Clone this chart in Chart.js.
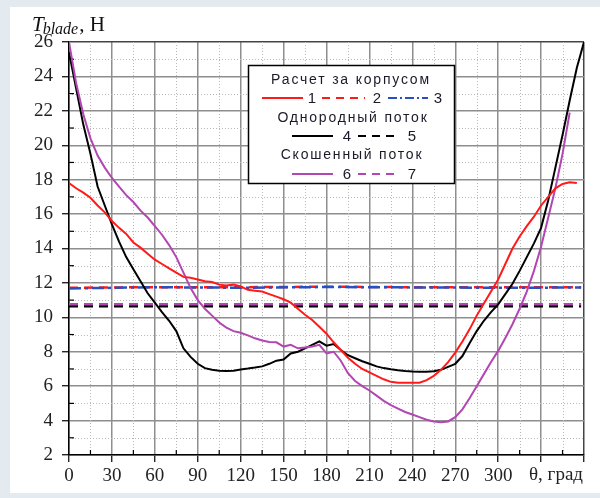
<!DOCTYPE html>
<html>
<head>
<meta charset="utf-8">
<script src="https://cdn.jsdelivr.net/npm/chart.js@4/dist/chart.umd.min.js"></script>
<style>
  html, body { margin: 0; padding: 0; background: #fff; }
</style>
</head>
<body>
<canvas id="chart" width="600" height="498"></canvas>
<script>
// углы, град
const angles = [0, 5, 10, 15, 20, 25, 30, 35, 40, 45, 50, 55, 60, 65, 70, 75, 80, 85, 90, 95,
  100, 105, 110, 115, 120, 125, 130, 135, 140, 145, 150, 155, 160, 165, 170, 175, 180, 185, 190, 195,
  200, 205, 210, 215, 220, 225, 230, 235, 240, 245, 250, 255, 260, 265, 270, 275, 280, 285, 290, 295,
  300, 305, 310, 315, 320, 325, 330, 335, 340, 345, 350, 355, 360];

// 1 - расчет за корпусом
const calc1 = [17.8, 17.5, 17.25, 16.95, 16.5, 16.1, 15.6, 15.2, 14.85, 14.35, 14.05, 13.7, 13.35, 13.1, 12.85, 12.6, 12.35, 12.3, 12.2, 12.1,
  12.05, 11.9, 11.85, 11.9, 11.8, 11.6, 11.55, 11.5, 11.35, 11.2, 11.05, 10.85, 10.5, 10.15, 9.85, 9.45, 9.05, 8.55, 8.1, 7.65,
  7.3, 7.0, 6.8, 6.6, 6.4, 6.25, 6.2, 6.2, 6.2, 6.2, 6.35, 6.6, 6.95, 7.4, 7.95, 8.6, 9.3, 10.1, 10.8, 11.5,
  12.2, 13.1, 14.0, 14.7, 15.3, 15.85, 16.5, 17.0, 17.5, 17.75, 17.85, 17.8, null];

// 4 - однородный поток
const uniform4 = [25.4, 23.3, 21.2, 19.5, 17.6, 16.5, 15.4, 14.4, 13.5, 12.8, 12.1, 11.4, 10.85, 10.3, 9.8, 9.2, 8.2, 7.7, 7.3, 7.05,
  6.95, 6.9, 6.88, 6.9, 6.97, 7.02, 7.08, 7.15, 7.3, 7.48, 7.55, 7.9, 8.0, 8.2, 8.4, 8.6, 8.35, 8.45, 8.1, 7.8,
  7.62, 7.45, 7.3, 7.15, 7.05, 6.98, 6.92, 6.88, 6.85, 6.84, 6.84, 6.87, 6.95, 7.12, 7.3, 7.75, 8.5, 9.2, 9.8, 10.3,
  10.75, 11.35, 11.95, 12.7, 13.5, 14.3, 15.2, 16.8, 18.7, 20.6, 22.6, 24.5, 26.0];

// 6 - скошенный поток
const skewed6 = [26.0, 23.6, 21.8, 20.4, 19.4, 18.7, 18.1, 17.6, 17.1, 16.7, 16.2, 15.8, 15.3, 14.8, 14.2, 13.5, 12.6, 11.7, 11.0, 10.5,
  10.1, 9.7, 9.4, 9.2, 9.1, 8.95, 8.78, 8.65, 8.57, 8.55, 8.3, 8.4, 8.2, 8.25, 8.3, 8.4, 7.9, 8.0, 7.48, 6.75,
  6.3, 6.0, 5.75, 5.45, 5.15, 4.9, 4.7, 4.5, 4.35, 4.2, 4.05, 3.95, 3.9, 3.95, 4.2, 4.65, 5.3, 6.0, 6.7, 7.4,
  8.05, 8.8, 9.6, 10.5, 11.5, 12.7, 14.1, 15.8, 17.5, 19.5, 21.9, null, null];

// осредненные значения (2, 3, 5, 7)
const flatAngles = [0, 60, 120, 180, 240, 300, 358];
const calc2 = [11.72, 11.75, 11.75, 11.78, 11.75, 11.75, 11.75];
const calc3 = [11.68, 11.75, 11.72, 11.76, 11.74, 11.72, 11.73];
const uniform5 = [10.65, 10.65, 10.65, 10.65, 10.65, 10.65, 10.65];
const skewed7 = [10.76, 10.76, 10.76, 10.76, 10.76, 10.76, 10.76];

const xTicks = [0, 30, 60, 90, 120, 150, 180, 210, 240, 270, 300];
const yTicks = [2, 4, 6, 8, 10, 12, 14, 16, 18, 20, 22, 24, 26];

const RED = '#ff1a1a', BLUE = '#2a4fc0', BLACK = '#000000', MAG = '#b246b2';

function pts(xs, ys) {
  const out = [];
  xs.forEach((x, i) => { if (ys[i] !== null) out.push({ x: x, y: ys[i] }); });
  return out;
}

function ds(label, data, color, dash, width) {
  return {
    label: label, data: data, borderColor: color, borderWidth: width,
    borderDash: dash, pointRadius: 0, fill: false, tension: 0
  };
}

// фон страницы
const bgPlugin = {
  id: 'bg',
  beforeDraw(chart) {
    const c = chart.ctx;
    c.save();
    c.fillStyle = '#e3ebf1';
    c.fillRect(0, 0, chart.width, chart.height);
    c.fillStyle = '#ffffff';
    c.fillRect(10, 7, 590, 486);
    c.restore();
  }
};

// мелкая сетка и внутренние засечки
const minorGrid = {
  id: 'minorGrid',
  beforeDatasetsDraw(chart) {
    const c = chart.ctx, a = chart.chartArea;
    const sx = chart.scales.x, sy = chart.scales.y;
    c.save();
    c.strokeStyle = '#b8b8b8';
    c.lineWidth = 1;
    c.setLineDash([1, 2]);
    for (let v = 15; v < 360; v += 30) {
      const px = Math.round(sx.getPixelForValue(v)) + 0.5;
      c.beginPath(); c.moveTo(px, a.top); c.lineTo(px, a.bottom); c.stroke();
    }
    for (let v = 3; v < 26; v += 2) {
      const py = Math.round(sy.getPixelForValue(v)) + 0.5;
      c.beginPath(); c.moveTo(a.left, py); c.lineTo(a.right, py); c.stroke();
    }
    c.setLineDash([]);
    c.strokeStyle = '#000';
    c.lineWidth = 1.2;
    for (let v = 15; v < 360; v += 30) {
      const px = sx.getPixelForValue(v);
      c.beginPath(); c.moveTo(px, a.bottom); c.lineTo(px, a.bottom - 5); c.stroke();
    }
    for (let v = 3; v < 26; v += 2) {
      const py = sy.getPixelForValue(v);
      c.beginPath(); c.moveTo(a.left, py); c.lineTo(a.left + 5, py); c.stroke();
    }
    c.restore();
  }
};

function seg(c, x1, x2, y, color, dash) {
  c.save();
  c.strokeStyle = color;
  c.lineWidth = 2;
  c.setLineDash(dash);
  c.beginPath(); c.moveTo(x1, y); c.lineTo(x2, y); c.stroke();
  c.restore();
}

// подписи, легенда
const labels = {
  id: 'labels',
  afterDraw(chart) {
    const c = chart.ctx;
    c.save();
    // заголовок оси Y
    c.fillStyle = '#111';
    c.textBaseline = 'alphabetic';
    c.textAlign = 'left';
    c.font = 'italic 21px "Liberation Serif"';
    c.fillText('T', 32, 31);
    let x = 32 + c.measureText('T').width;
    c.font = 'italic 16px "Liberation Serif"';
    c.fillText('blade', x - 1, 34);
    x += c.measureText('blade').width;
    c.font = '21px "Liberation Serif"';
    c.fillText(', H', x, 31);

    // подпись оси X
    c.font = '19px "Liberation Serif"';
    c.textAlign = 'center';
    c.textBaseline = 'middle';
    c.fillStyle = '#222';
    c.fillText('θ, град', 556, 475);

    // легенда
    c.fillStyle = '#fff';
    c.fillRect(248, 65, 206, 118);
    c.strokeStyle = '#000';
    c.lineWidth = 1.5;
    c.strokeRect(248.5, 65.5, 206, 118);

    c.fillStyle = '#1a1a28';
    c.font = '14px "Liberation Sans"';
    c.letterSpacing = '1.8px';
    c.textAlign = 'center';
    c.textBaseline = 'middle';
    c.fillText('Расчет за корпусом', 351, 80);
    c.fillText('Однородный поток', 353, 118);
    c.fillText('Скошенный поток', 352, 155);

    const dash = [8, 6], dashDot = [9, 3, 2, 3];
    seg(c, 262, 303, 98, RED, []);
    seg(c, 322, 365, 98, RED, dash);
    seg(c, 388, 428, 98, BLUE, dashDot);
    seg(c, 292, 333, 136, BLACK, []);
    seg(c, 358, 398, 136, BLACK, dash);
    seg(c, 292, 333, 174, MAG, []);
    seg(c, 358, 398, 174, MAG, dash);

    c.letterSpacing = '0px';
    c.font = '15px "Liberation Sans"';
    c.fillText('1', 312, 99);
    c.fillText('2', 377, 99);
    c.fillText('3', 438, 99);
    c.fillText('4', 347, 137);
    c.fillText('5', 412, 137);
    c.fillText('6', 347, 175);
    c.fillText('7', 412, 175);
    c.restore();
  }
};

const config = {
  type: 'line',
  data: {
    datasets: [
      ds('1', pts(angles, calc1), RED, [], 2),
      ds('6', pts(angles, skewed6), MAG, [], 2),
      ds('4', pts(angles, uniform4), BLACK, [], 2),
      ds('3', pts(flatAngles, calc3), BLUE, [12, 4, 3, 4], 2.5),
      ds('2', pts(flatAngles, calc2), RED, [9, 6], 2.5),
      ds('7', pts(flatAngles, skewed7), MAG, [9, 6], 2.5),
      ds('5', pts(flatAngles, uniform5), BLACK, [9, 6], 2.5)
    ]
  },
  options: {
    responsive: false,
    animation: false,
    layout: { padding: { top: 42, right: 16, left: 0, bottom: 0 } },
    plugins: { legend: { display: false }, tooltip: { enabled: false } },
    scales: {
      x: {
        type: 'linear', min: 0, max: 360,
        afterBuildTicks: s => { s.ticks = xTicks.concat([330, 360]).map(v => ({ value: v })); },
        afterFit: s => { s.height = 43; },
        ticks: {
          autoSkip: false, maxRotation: 0, padding: 3, color: '#222',
          font: { family: 'Liberation Serif', size: 19 },
          callback: v => (xTicks.includes(v) ? String(v) : '')
        },
        grid: {
          color: c => (c.tick && c.tick.value === 360 ? '#444' : '#8e8e8e'),
          lineWidth: 1.5, tickLength: 7, tickColor: '#000', tickWidth: 1.2
        },
        border: { color: '#000', width: 1.5 }
      },
      y: {
        min: 2, max: 26,
        afterBuildTicks: s => { s.ticks = yTicks.map(v => ({ value: v })); },
        afterFit: s => { s.width = 69; },
        ticks: {
          autoSkip: false, padding: 9, color: '#222',
          font: { family: 'Liberation Serif', size: 19 }
        },
        grid: {
          color: c => (c.tick && c.tick.value === 26 ? '#444' : '#8e8e8e'),
          lineWidth: 1.5, tickLength: 7, tickColor: '#000', tickWidth: 1.2
        },
        border: { color: '#000', width: 1.5 }
      }
    }
  },
  plugins: [bgPlugin, minorGrid, labels]
};

window.onload = function () {
  const ctx = document.getElementById('chart').getContext('2d');
  new Chart(ctx, config);
};
</script>
</body>
</html>
